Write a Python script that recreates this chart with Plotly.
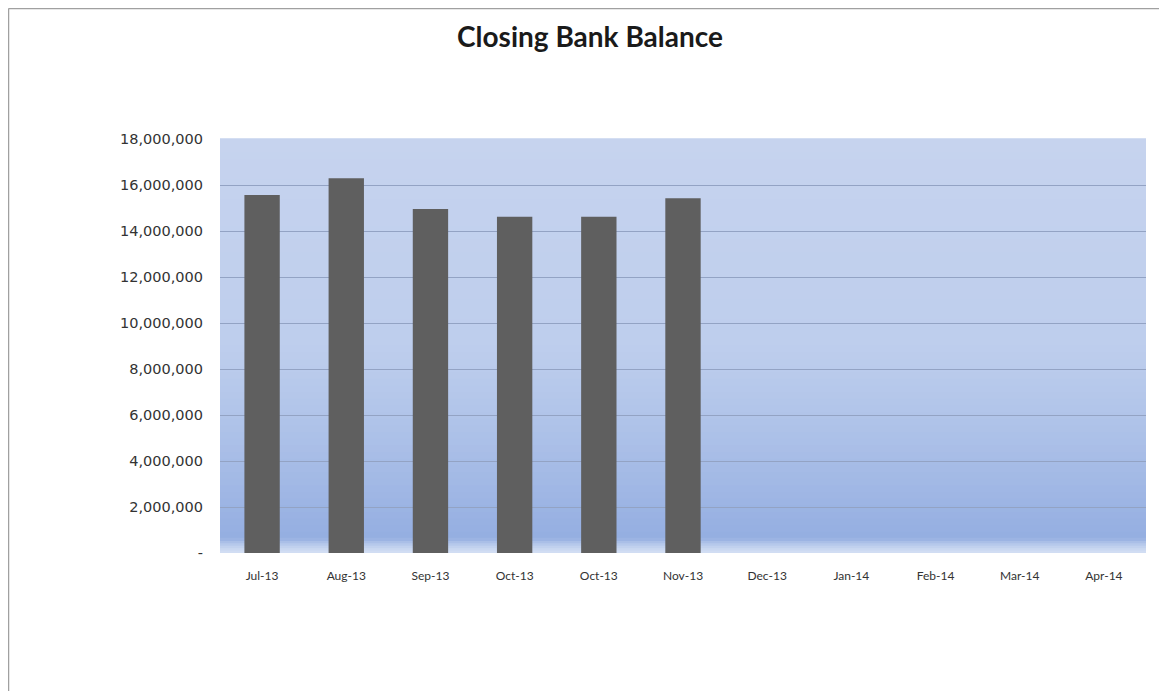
import plotly.graph_objects as go

categories = ["Jul-13", "Aug-13", "Sep-13", "Oct-13", "Oct-13", "Nov-13",
              "Dec-13", "Jan-14", "Feb-14", "Mar-14", "Apr-14"]
balances = [15570000, 16290000, 14960000, 14620000, 14620000, 15420000,
            None, None, None, None, None]
y_ticks = [0, 2000000, 4000000, 6000000, 8000000, 10000000, 12000000,
           14000000, 16000000, 18000000]
y_tick_labels = ["-", "2,000,000", "4,000,000", "6,000,000", "8,000,000",
                 "10,000,000", "12,000,000", "14,000,000", "16,000,000", "18,000,000"]

x_pos = list(range(len(categories)))

fig = go.Figure()
fig.add_trace(go.Bar(
    x=x_pos, y=balances, width=0.42,
    marker=dict(color="#5F5F5F", line=dict(width=0)),
    hoverinfo="skip",
))

def lerp(c1, c2, t):
    return tuple(round(a + (b - a) * t) for a, b in zip(c1, c2))

top_c = (198, 211, 238)
mid_c = (190, 206, 237)
bot_c = (148, 174, 225)
band_c = (210, 222, 243)
shapes = []
n = 60
main_bottom = 0.035
for i in range(n):
    y0 = main_bottom + (1 - main_bottom) * i / n
    y1 = main_bottom + (1 - main_bottom) * (i + 1) / n
    t = 1 - (i + 0.5) / n
    if t < 0.5:
        c = lerp(top_c, mid_c, t / 0.5)
    else:
        c = lerp(mid_c, bot_c, ((t - 0.5) / 0.5) ** 1.2)
    shapes.append(dict(type="rect", xref="paper", yref="paper", x0=0, x1=1,
                       y0=y0, y1=y1 + 0.002, line=dict(width=0),
                       fillcolor="rgb(%d,%d,%d)" % c, layer="below"))
m = 6
for i in range(m):
    y0 = main_bottom * i / m
    y1 = main_bottom * (i + 1) / m
    t = (i + 0.5) / m
    c = lerp(band_c, bot_c, t ** 1.5)
    shapes.append(dict(type="rect", xref="paper", yref="paper", x0=0, x1=1,
                       y0=y0, y1=y1 + 0.002, line=dict(width=0),
                       fillcolor="rgb(%d,%d,%d)" % c, layer="below"))

# page has an 8px body margin; size figure accordingly
W, H = 1159, 683
ml, mr, mt, mb = 212, 21, 131, 138
pw, ph = W - ml - mr, H - mt - mb
def px_to_paper_x(px):
    return (px - ml) / pw
def px_to_paper_y(py):
    return (H - mb - py) / ph
shapes.append(dict(type="line", xref="paper", yref="paper",
                   x0=px_to_paper_x(0.5), x1=px_to_paper_x(W),
                   y0=px_to_paper_y(0.5), y1=px_to_paper_y(0.5),
                   line=dict(color="#A0A0A0", width=1.5), layer="above"))
shapes.append(dict(type="line", xref="paper", yref="paper",
                   x0=px_to_paper_x(0.5), x1=px_to_paper_x(0.5),
                   y0=px_to_paper_y(0.5), y1=px_to_paper_y(H),
                   line=dict(color="#A0A0A0", width=1.5), layer="above"))

fig.update_layout(
    width=W, height=H,
    margin=dict(l=ml, r=mr, t=mt, b=mb),
    paper_bgcolor="white",
    plot_bgcolor="rgba(0,0,0,0)",
    showlegend=False,
    shapes=shapes,
    title=dict(text="<b>Closing Bank Balance</b>", x=(590 - 8) / W, xanchor="center",
               y=1 - (37 - 8) / H, yanchor="middle",
               font=dict(family="Lato, Open Sans, sans-serif", size=28, color="#1A1A1A")),
    xaxis=dict(
        tickmode="array", tickvals=x_pos, ticktext=categories,
        range=[-0.5, len(categories) - 0.5],
        showgrid=False, zeroline=False, showline=False, ticks="",
        ticklabelstandoff=14,
        tickfont=dict(family="Lato, Open Sans, sans-serif", size=12, color="#333333"),
    ),
    yaxis=dict(
        tickmode="array", tickvals=y_ticks, ticktext=y_tick_labels,
        range=[0, 18000000],
        showgrid=True, gridcolor="#93A3C4", gridwidth=1,
        zeroline=False, showline=False, ticks="",
        ticklabelstandoff=16,
        tickfont=dict(family="DejaVu Sans, sans-serif", size=14.5, color="#333333"),
    ),
)
fig.write_html("out.html")
